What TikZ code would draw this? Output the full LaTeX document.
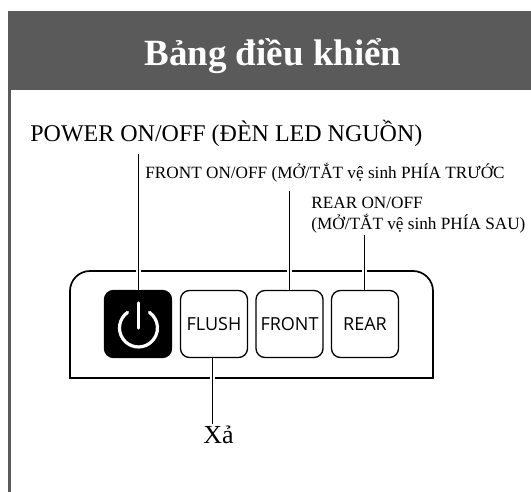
\documentclass[tikz,border=0pt]{standalone}
\usepackage{fontspec}
\setmainfont{Liberation Serif}
\newfontfamily\btnfont{Open Sans}
\definecolor{headgray}{HTML}{5A5A5A}

\begin{document}
\begin{tikzpicture}[x=1pt, y=-1pt, thick,
  btn/.style={draw=black, line width=1.3pt, rounded corners=9pt, minimum width=67pt,
    minimum height=67pt, inner sep=0pt, font=\btnfont\fontsize{18}{20}\selectfont},
  lbl/.style={inner sep=0pt, anchor=base west, align=left},
  leader/.style={line width=1pt, preaction={draw=white, line width=5pt}}]
  \useasboundingbox (0,0) rectangle (531,492);

  % header bar and left strip
  \fill[headgray] (7.5,11) rectangle (531,90);
  \fill[headgray] (7.5,90) rectangle (11,492);
  \node[lbl, text=white, font=\bfseries\fontsize{37}{40}\selectfont] (title)
    at (144,66) {Bảng điều khiển};

  % panel
  \draw[line width=1.7pt] (70,378) [rounded corners=20pt] -- (70,271) -- (433,271)
    [sharp corners] -- (433,378) -- cycle;

  % buttons
  \node[btn, fill=black] (power) at (138,324) {};
  \node[btn] (flush) at (214,324) {FLUSH};
  \node[btn] (front) at (289.5,324) {FRONT};
  \node[btn] (rear)  at (365,324) {REAR};

  % power icon
  \draw[white, line width=3.2pt, line cap=round] (138.5,303) -- (138.5,328);
  \draw[white, line width=3.2pt, line cap=round]
    (127.6,312.4) arc[start angle=125, end angle=415, radius=19pt];

  % labels
  \node[lbl, font=\fontsize{24}{26}\selectfont] (powerlbl) at (30,142) {POWER ON/OFF (ĐÈN LED NGUỒN)};
  \node[lbl, font=\fontsize{17.2}{20}\selectfont] (frontlbl) at (145,179) {FRONT ON/OFF (MỞ/TẮT vệ sinh PHÍA TRƯỚC};
  \node[lbl, font=\fontsize{17.2}{20}\selectfont] (rearlbl) at (311,209) {REAR ON/OFF};
  \node[lbl, font=\fontsize{17.2}{20}\selectfont] (rearlblb) at (311,229.5) {(MỞ/TẮT vệ sinh PHÍA SAU)};
  \node[lbl, font=\fontsize{26}{28}\selectfont] (xa) at (203,443) {Xả};

  % leaders
  \coordinate (powerend) at (138,154);
  \coordinate (frontend) at (289,191);
  \coordinate (rearend)  at (364,235);
  \coordinate (flushend) at (212,424);
  \draw[leader] (powerend) -- (powerend |- power.north);
  \draw[leader] (frontend) -- (frontend |- front.north);
  \draw[leader] (rearend) -- (rearend |- rear.north);
  \draw[leader] (flushend) -- (flushend |- flush.south);
\end{tikzpicture}
\end{document}
